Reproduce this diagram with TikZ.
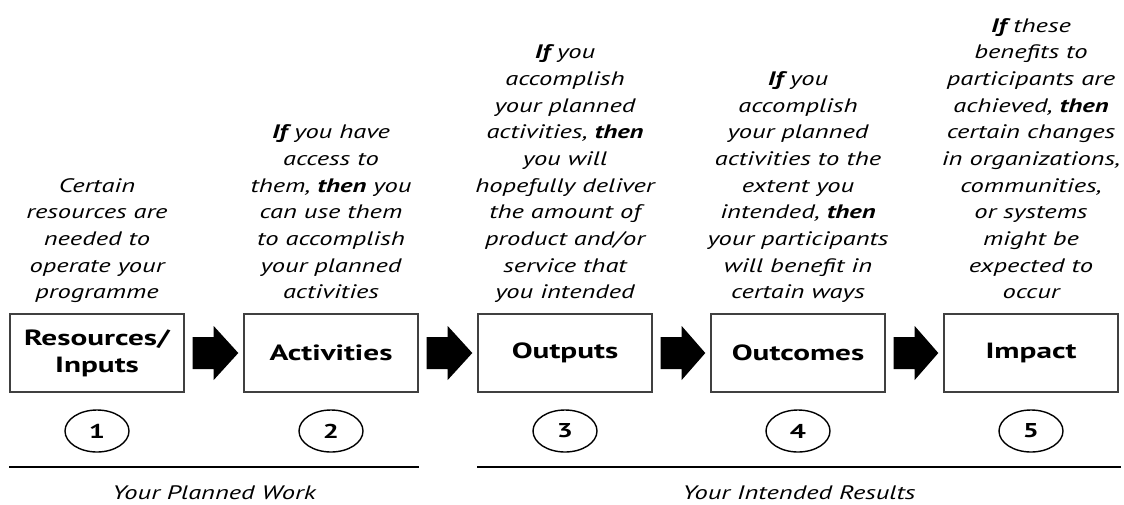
\documentclass[tikz,border=0pt]{standalone}
\usepackage{fontspec}
\setmainfont{PT Sans}[FakeStretch=1.36]
\newfontfamily\labelfont{PT Sans}[FakeStretch=1.42]
\usetikzlibrary{calc,shapes.geometric}
\begin{document}
\begin{tikzpicture}[x=1pt,y=-1pt,
  stage/.style={draw=black!75, line width=1.4pt, minimum width=174pt, minimum height=78pt,
    inner sep=0pt, align=center, font=\labelfont\fontsize{22}{27}\selectfont\bfseries},
  num/.style={draw, ellipse, line width=1.4pt, minimum width=64pt, minimum height=42pt,
    inner sep=0pt, font=\labelfont\fontsize{20}{20}\selectfont\bfseries},
  desc/.style={anchor=south, inner sep=0pt, align=center,
    font=\fontsize{19.5}{26.67}\selectfont\itshape},
  caption/.style={inner sep=0pt, font=\fontsize{19.5}{22}\selectfont\itshape},
  rule/.style={line width=2.2pt},
  flow/.style={fill=black}]
\useasboundingbox (0,0) rectangle (1124,504);

% boxes
\node[stage] (b1) at (97,353) {Resources/\\Inputs};
\node[stage] (b2) at (331,353) {Activities};
\node[stage] (b3) at (565,353) {Outputs};
\node[stage] (b4) at (798,353) {Outcomes};
\node[stage] (b5) at (1031,353) {Impact};

% numbers
\node[num] (n1) at (97,431) {1};
\node[num] (n2) at (331,431) {2};
\node[num] (n3) at (565,431) {3};
\node[num] (n4) at (798,431) {4};
\node[num] (n5) at (1031,431) {5};

% descriptions
\node[desc] (d1) at (97,307) {Certain\\resources are\\needed to\\operate your\\programme\strut};
\node[desc] (d2) at (331,307) {\textbf{If} you have\\access to\\them, \textbf{then} you\\can use them\\to accomplish\\your planned\\activities\strut};
\node[desc] (d3) at (565,307) {\textbf{If} you\\accomplish\\your planned\\activities, \textbf{then}\\you will\\hopefully deliver\\the amount of\\product and/or\\service that\\you intended\strut};
\node[desc] (d4) at (798,307) {\textbf{If} you\\accomplish\\your planned\\activities to the\\extent you\\intended, \textbf{then}\\your participants\\will benefit in\\certain ways\strut};
\node[desc] (d5) at (1031,307) {\textbf{If} these\\benefits to\\participants are\\achieved, \textbf{then}\\certain changes\\in organizations,\\communities,\\or systems\\might be\\expected to\\occur\strut};

% arrows between boxes
\foreach \a/\b in {b1/b2, b2/b3, b3/b4, b4/b5}{
  \fill[flow] ($(\a.east)+(8,-16)$) -- ($(\a.east)+(29,-16)$) -- ($(\a.east)+(29,-27)$)
    -- ($(\b.west)+(-5,0)$) -- ($(\a.east)+(29,27)$) -- ($(\a.east)+(29,16)$)
    -- ($(\a.east)+(8,16)$) -- cycle;
}

% group rules
\coordinate (l1a) at ($(b1.west)+(0,114)$);
\coordinate (l1b) at ($(b2.east)+(0,114)$);
\coordinate (l2a) at ($(b3.west)+(0,114)$);
\coordinate (l2b) at ($(b5.east)+(2,114)$);
\draw[rule] (l1a) -- (l1b);
\draw[rule] (l2a) -- (l2b);
\node[caption] (c1) at ($(l1a)!0.5!(l1b)+(0,26)$) {Your Planned Work};
\node[caption] (c2) at ($(l2a)!0.5!(l2b)+(0,26)$) {Your Intended Results};
\end{tikzpicture}
\end{document}
